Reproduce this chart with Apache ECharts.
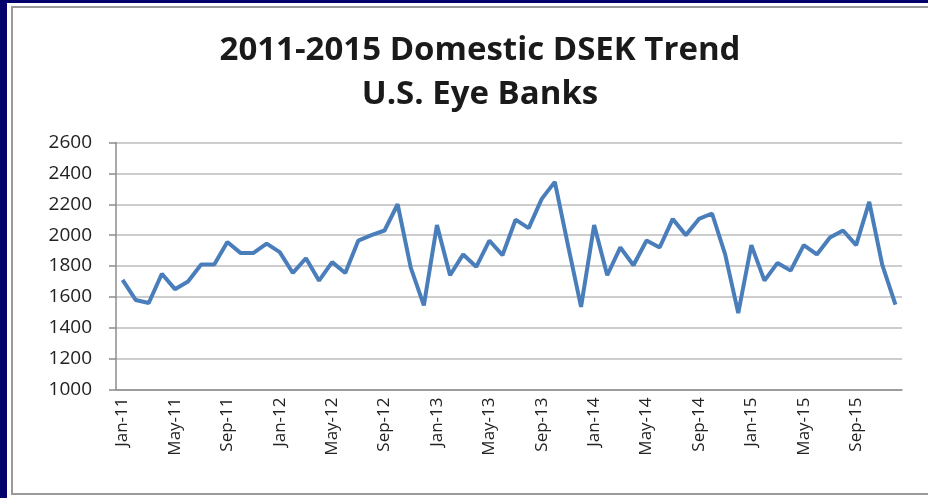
<!DOCTYPE html>
<html>
<head>
<meta charset="utf-8">
<script src="https://cdn.jsdelivr.net/npm/echarts@6/dist/echarts.min.js"></script>
<style>
  html, body { margin: 0; padding: 0; background: #03036b; }
  #chart { width: 928px; height: 498px; }
</style>
</head>
<body>
<div id="chart"></div>
<script>
  // monthly categories Jan-11 .. Dec-15
  const years = ['11', '12', '13', '14', '15']
  const months = ['Jan', 'Feb', 'Mar', 'Apr', 'May', 'Jun', 'Jul', 'Aug', 'Sep', 'Oct', 'Nov', 'Dec']
  const categories = []
  years.forEach(y => months.forEach(m => categories.push(m + '-' + y)))

  const dsek2011 = [1710, 1580, 1560, 1750, 1650, 1700, 1810, 1810, 1955, 1885, 1885, 1945]
  const dsek2012 = [1890, 1755, 1850, 1705, 1825, 1755, 1965, 2000, 2030, 2200, 1790, 1545]
  const dsek2013 = [2065, 1740, 1875, 1795, 1965, 1870, 2100, 2045, 2235, 2345, 1935, 1535]
  const dsek2014 = [2065, 1740, 1920, 1805, 1965, 1920, 2105, 2000, 2105, 2140, 1875, 1495]
  const dsek2015 = [1935, 1705, 1820, 1770, 1935, 1875, 1985, 2030, 1935, 2215, 1805, 1550]
  const dsekValues = [].concat(dsek2011, dsek2012, dsek2013, dsek2014, dsek2015)

  const titleLines = ['2011-2015 Domestic DSEK Trend', 'U.S. Eye Banks']
  const font = '"Open Sans", Lato, sans-serif'

  const chart = echarts.init(document.getElementById('chart'))
  chart.setOption({
    backgroundColor: '#03036b',
    animation: false,
    graphic: [
      { type: 'rect', shape: { x: 7, y: 3, width: 930, height: 500 }, style: { fill: '#ffffff' }, z: -10 },
      { type: 'rect', shape: { x: 12, y: 7, width: 930, height: 487 }, style: { fill: '#ffffff', stroke: '#9a9a9a', lineWidth: 2 }, z: -9 }
    ],
    title: {
      text: titleLines.join('\n'),
      left: 475,
      top: 24,
      textAlign: 'center',
      textStyle: {
        fontFamily: font,
        fontSize: 33,
        fontWeight: 'bold',
        color: '#1a1a1a',
        lineHeight: 44
      }
    },
    grid: {
      left: 116,
      right: 26,
      top: 142.5,
      bottom: 108.5,
      containLabel: false
    },
    xAxis: {
      type: 'category',
      data: categories,
      boundaryGap: true,
      axisLine: { lineStyle: { color: '#8c8c8c', width: 1.5 } },
      axisTick: { interval: 3, length: 6, lineStyle: { color: '#8c8c8c', width: 1.5 } },
      axisLabel: {
        interval: 3,
        rotate: 90,
        margin: 8,
        fontFamily: font,
        fontSize: 17,
        color: '#222'
      },
      splitLine: { show: false }
    },
    yAxis: {
      type: 'value',
      min: 1000,
      max: 2600,
      interval: 200,
      axisLine: { show: true, lineStyle: { color: '#8c8c8c', width: 1.5 } },
      axisTick: { show: true, length: 7, lineStyle: { color: '#8c8c8c', width: 1.5 } },
      axisLabel: {
        margin: 24,
        fontFamily: font,
        fontSize: 19,
        color: '#222',
        formatter: v => String(v)
      },
      splitLine: { lineStyle: { color: '#bdbdbd', width: 1.5 } }
    },
    series: [
      {
        name: 'Domestic DSEK',
        type: 'line',
        data: dsekValues,
        symbol: 'none',
        lineStyle: { color: '#4a7ebb', width: 4 },
        itemStyle: { color: '#4a7ebb' }
      }
    ]
  })
</script>
</body>
</html>
